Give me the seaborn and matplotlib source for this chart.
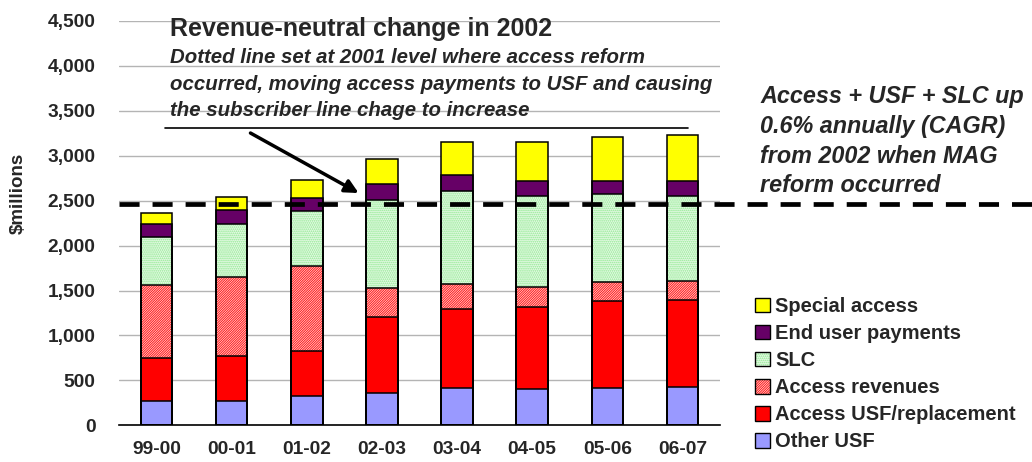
import matplotlib
matplotlib.use("Agg")
import matplotlib.pyplot as plt
import seaborn as sns
import numpy as np
from matplotlib.patches import Patch
from matplotlib.legend_handler import HandlerTuple
from matplotlib.lines import Line2D

# ---------------- data ----------------
categories = ["99-00", "00-01", "01-02", "02-03", "03-04", "04-05", "05-06", "06-07"]
other_usf = [274, 274, 326, 363, 415, 400, 415, 430]
access_usf = [472, 494, 497, 846, 879, 913, 968, 968]
access_revenues = [812, 879, 947, 316, 282, 230, 208, 211]
slc = [541, 593, 612, 980, 1032, 1011, 981, 945]
end_user = [141, 156, 151, 181, 179, 164, 146, 164]
special_access = [126, 145, 200, 278, 370, 439, 491, 510]
series_names = ["Other USF", "Access USF/replacement", "Access revenues",
                "SLC", "End user payments", "Special access"]
reference_level = 2460
y_ticks = list(range(0, 4501, 500))

title_text = "Revenue-neutral change in 2002"
note_lines = ["Dotted line set at 2001 level where access reform",
              "occurred, moving access payments to USF and causing",
              "the subscriber line chage to increase"]
right_lines = ["Access + USF + SLC up", "0.6% annually (CAGR)",
               "from 2002 when MAG", "reform occurred"]

# ---------------- style ----------------
sns.set_theme(style="white")
plt.rcParams["font.family"] = ["Liberation Sans", "DejaVu Sans"]
plt.rcParams["hatch.linewidth"] = 0.8

W, H = 1032, 462
fx = lambda x: x / W
fy = lambda y: 1 - y / H

# (facecolor, hatchcolor, hatch)
styles = [
    ("#9999ff", None, None),
    ("#ff0000", None, None),
    ("white", "#ff2020", "/" * 14),
    ("#e4fae4", "#8fe88f", "." * 8),
    ("#660066", None, None),
    ("#ffff00", None, None),
]

fig = plt.figure(figsize=(W / 100, H / 100), dpi=100)
ax = fig.add_axes([fx(119), 36.7 / H, 601 / W, 404.3 / H])

stack = np.cumsum(np.array([other_usf, access_usf, access_revenues, slc,
                            end_user, special_access]), axis=0)

BW = 0.42
for i in reversed(range(6)):
    fc, hc, hatch = styles[i]
    kw = dict(x=categories, y=stack[i], order=categories, width=BW,
              saturation=1, errorbar=None, ax=ax, zorder=2)
    if hatch:
        sns.barplot(**kw, color=fc, edgecolor=hc, linewidth=0, hatch=hatch)
    else:
        sns.barplot(**kw, color=fc, linewidth=0)
for i in reversed(range(6)):
    sns.barplot(x=categories, y=stack[i], order=categories, width=BW,
                errorbar=None, ax=ax, fill=False, color="black",
                edgecolor="black", linewidth=1.1, zorder=3)

ax.set_xlabel("")
ax.set_ylabel("")
ax.set_ylim(0, 4500)
ax.set_xlim(-0.5, 7.5)
ax.set_yticks(y_ticks)
ax.set_yticklabels([f"{v:,}" for v in y_ticks], fontsize=13.8, fontweight="bold")
ax.set_xticks(range(len(categories)))
ax.set_xticklabels(categories, fontsize=13.8, fontweight="bold")
ax.tick_params(axis="x", which="major", length=0, pad=11)
ax.tick_params(axis="y", which="major", length=0, pad=17)
ax.set_xticks(np.arange(-0.5, len(categories), 1), minor=True)
ax.tick_params(axis="x", which="minor", length=6, width=1, color="black", direction="out")
ax.set_axisbelow(True)
ax.yaxis.grid(True, color="#b4b4b4", lw=1)
ax.xaxis.grid(False)
for s in ["left", "top", "right"]:
    ax.spines[s].set_visible(False)
ax.spines["bottom"].set_color("black")
ax.spines["bottom"].set_linewidth(1.2)

# reference dashed line
ax.axhline(reference_level, xmin=0, xmax=(W - 119) / 601, color="black", lw=3.4,
           dashes=(4.25, 2.75), clip_on=False, zorder=5)

# arrow
ax.annotate("", xy=(2.69, 2585), xytext=(1.25, 3253),
            arrowprops=dict(arrowstyle="-|>", lw=2.5, color="black",
                            mutation_scale=20, shrinkA=0, shrinkB=0),
            annotation_clip=False, zorder=6)

# texts
fig.text(fx(170), fy(36), title_text, fontsize=18, fontweight="bold",
         ha="left", va="baseline")
for txt, yb in zip(note_lines, [62.7, 89.5, 115.5]):
    fig.text(fx(170), fy(yb), txt, fontsize=14.7, fontweight="bold",
             style="italic", ha="left", va="baseline")
fig.add_artist(Line2D([fx(165), fx(688)], [fy(128.3), fy(128.3)],
                      color="black", lw=1.2, transform=fig.transFigure))
for txt, yb in zip(right_lines, [103.3, 133.3, 163.3, 192]):
    fig.text(fx(760), fy(yb), txt, fontsize=16.8, fontweight="bold",
             style="italic", ha="left", va="baseline")
fig.text(fx(18), fy(193), "$millions", rotation=90, fontsize=13.5,
         fontweight="bold", ha="center", va="center")

# legend
handles = []
for i in reversed(range(6)):
    fc, hc, hatch = styles[i]
    if hatch:
        h = (Patch(facecolor=fc, edgecolor=hc, hatch=hatch, linewidth=0),
             Patch(facecolor="none", edgecolor="black", linewidth=1.0))
    else:
        h = Patch(facecolor=fc, edgecolor="black", linewidth=1.0)
    handles.append(h)
labels = list(reversed(series_names))
fig.legend(handles, labels, loc="upper left", bbox_to_anchor=(fx(755), fy(297)),
           frameon=False, borderpad=0, borderaxespad=0, handlelength=0.75,
           handleheight=0.75, handletextpad=0.25, labelspacing=0.40,
           prop=dict(size=14.5, weight="bold"),
           handler_map={tuple: HandlerTuple(ndivide=1, pad=0)})

fig.savefig("out.png", dpi=100)
